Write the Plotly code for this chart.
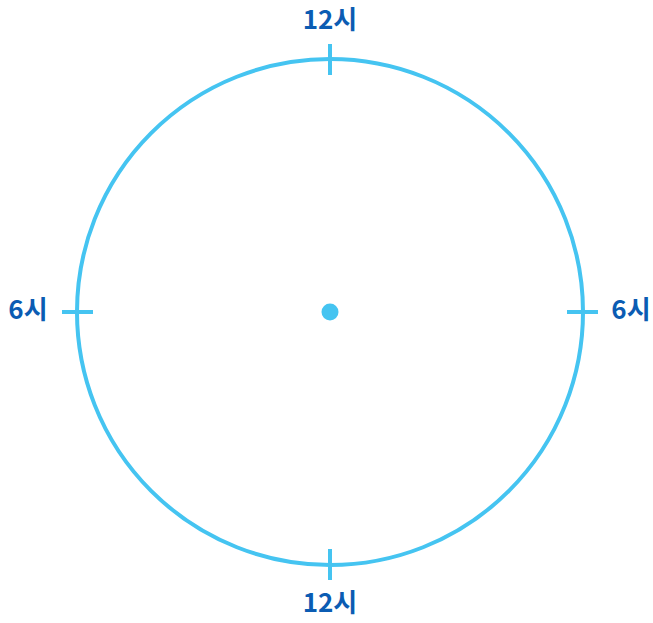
import numpy as np
import plotly.graph_objects as go

# Clock-face data
labels = ["12시", "6시", "12시", "6시"]
label_angles = [90, 0, 270, 180]          # degrees, counter-clockwise from +x
label_radius = [290, 301, 293, 302]
tick_angles = [90, 0, 270, 180]
tick_inner, tick_outer = 237, 268
circle_radius = 253
center = (0, 0)

CIRCLE_COLOR = "#45C4F1"
TEXT_COLOR = "#0B5CB3"

fig = go.Figure()

# circle
fig.add_shape(type="circle", xref="x", yref="y",
              x0=center[0] - circle_radius, x1=center[0] + circle_radius,
              y0=center[1] - circle_radius, y1=center[1] + circle_radius,
              line=dict(color=CIRCLE_COLOR, width=4), layer="below")

# ticks
for a in tick_angles:
    r = np.radians(a)
    fig.add_trace(go.Scatter(
        x=[tick_inner * np.cos(r), tick_outer * np.cos(r)],
        y=[tick_inner * np.sin(r), tick_outer * np.sin(r)],
        mode="lines", line=dict(color=CIRCLE_COLOR, width=4),
        hoverinfo="skip", showlegend=False, cliponaxis=False))

# center dot
fig.add_trace(go.Scatter(
    x=[center[0]], y=[center[1]], mode="markers",
    marker=dict(color=CIRCLE_COLOR, size=17),
    hoverinfo="skip", showlegend=False))

# labels
rad = np.radians(label_angles)
fig.add_trace(go.Scatter(
    x=np.array(label_radius) * np.cos(rad),
    y=np.array(label_radius) * np.sin(rad),
    mode="text", text=labels, cliponaxis=False,
    textfont=dict(family="Noto Sans CJK KR", size=26, color=TEXT_COLOR, weight="bold"),
    hoverinfo="skip", showlegend=False))

fig.update_layout(
    width=653, height=623,
    margin=dict(l=0, r=0, t=0, b=0),
    paper_bgcolor="white", plot_bgcolor="white",
    xaxis=dict(range=[-330, 323], visible=False, fixedrange=True),
    yaxis=dict(range=[-311, 312], visible=False, fixedrange=True),
)

fig.write_html("out.html", config={"displayModeBar": False},
               post_script="document.body.style.margin='0';document.body.style.overflow='hidden';")
